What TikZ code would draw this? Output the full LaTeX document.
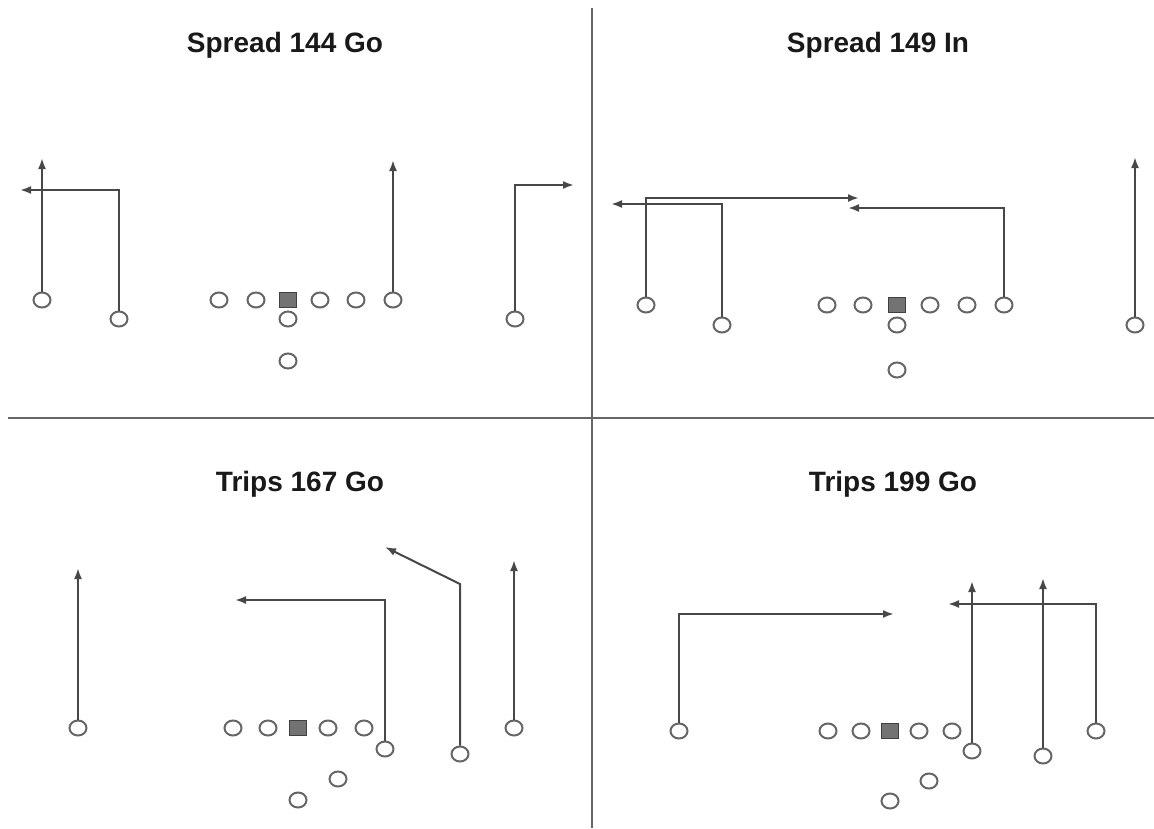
\documentclass[tikz,border=0pt]{standalone}
\usepackage{fontspec}
\setmainfont{Liberation Sans}
\usetikzlibrary{arrows.meta,shapes.geometric}
\begin{document}
\begin{tikzpicture}[
  x=1pt, y=-1pt,
  player/.style={ellipse, draw=black!60, line width=2pt, minimum width=17pt, minimum height=15pt, inner sep=0pt},
  center/.style={rectangle, draw=black!75, fill=black!55, line width=1.2pt, minimum width=17pt, minimum height=15pt, inner sep=0pt},
  route/.style={draw=black!72, line width=2pt, -{Latex[length=11pt,width=8pt]}},
  divider/.style={draw=black!60, line width=2pt},
  title/.style={font=\fontsize{28}{32}\selectfont\bfseries, text=black!90}
]
\useasboundingbox (0,0) rectangle (1154,828);
\coordinate (vtop) at (592,8);
\coordinate (vbot) at (592,828);
\coordinate (hleft) at (8,418);
\coordinate (hright) at (1154,418);
\draw[divider] (vtop) -- (vbot);
\draw[divider] (hleft) -- (hright);

\node[title] (t1) at (285,45) {Spread 144 Go};
\node[title] (t2) at (878,45) {Spread 149 In};
\node[title] (t3) at (300,484) {Trips 167 Go};
\node[title] (t4) at (893,484) {Trips 199 Go};

\node[player] (a1) at (42,300) {};
\node[player] (a2) at (119,319) {};
\node[player] (a3) at (219,300) {};
\node[player] (a4) at (256,300) {};
\node[center] (a5) at (288,300) {};
\node[player] (a6) at (320,300) {};
\node[player] (a7) at (356,300) {};
\node[player] (a8) at (393,300) {};
\node[player] (a9) at (288,319) {};
\node[player] (a10) at (288,361) {};
\node[player] (a11) at (515,319) {};
\coordinate (a1e) at (42,158);
\coordinate (a2e) at (20,190);
\coordinate (a8e) at (393,160);
\coordinate (a11e) at (574,185);
\draw[route] (a1) -- (a1e);
\draw[route] (a2) |- (a2e);
\draw[route] (a8) -- (a8e);
\draw[route] (a11) |- (a11e);

\node[player] (b1) at (646,305) {};
\node[player] (b2) at (722,325) {};
\node[player] (b3) at (827,305) {};
\node[player] (b4) at (863,305) {};
\node[center] (b5) at (897,305) {};
\node[player] (b6) at (930,305) {};
\node[player] (b7) at (967,305) {};
\node[player] (b8) at (1004,305) {};
\node[player] (b9) at (897,325) {};
\node[player] (b10) at (897,370) {};
\node[player] (b11) at (1135,325) {};
\coordinate (b1e) at (859,198);
\coordinate (b2e) at (611,204);
\coordinate (b8e) at (848,208);
\coordinate (b11e) at (1135,157);
\draw[route] (b1) |- (b1e);
\draw[route] (b2) |- (b2e);
\draw[route] (b8) |- (b8e);
\draw[route] (b11) -- (b11e);

\node[player] (c1) at (78,728) {};
\node[player] (c2) at (233,728) {};
\node[player] (c3) at (268,728) {};
\node[center] (c4) at (298,728) {};
\node[player] (c5) at (328,728) {};
\node[player] (c6) at (364,728) {};
\node[player] (c7) at (385,749) {};
\node[player] (c8) at (460,754) {};
\node[player] (c9) at (514,728) {};
\node[player] (c10) at (338,779) {};
\node[player] (c11) at (298,800) {};
\coordinate (c1e) at (78,568);
\coordinate (c7e) at (235,600);
\coordinate (c8m) at (460,584);
\coordinate (c8e) at (385,547);
\coordinate (c9e) at (514,560);
\draw[route] (c1) -- (c1e);
\draw[route] (c7) |- (c7e);
\draw[route] (c8) -- (c8m) -- (c8e);
\draw[route] (c9) -- (c9e);

\node[player] (d1) at (679,731) {};
\node[player] (d2) at (828,731) {};
\node[player] (d3) at (861,731) {};
\node[center] (d4) at (890,731) {};
\node[player] (d5) at (919,731) {};
\node[player] (d6) at (952,731) {};
\node[player] (d7) at (972,751) {};
\node[player] (d8) at (1043,756) {};
\node[player] (d9) at (1096,731) {};
\node[player] (d10) at (929,781) {};
\node[player] (d11) at (890,801) {};
\coordinate (d1e) at (894,614);
\coordinate (d7e) at (972,581);
\coordinate (d8e) at (1043,578);
\coordinate (d9e) at (948,604);
\draw[route] (d1) |- (d1e);
\draw[route] (d7) -- (d7e);
\draw[route] (d8) -- (d8e);
\draw[route] (d9) |- (d9e);
\end{tikzpicture}
\end{document}
